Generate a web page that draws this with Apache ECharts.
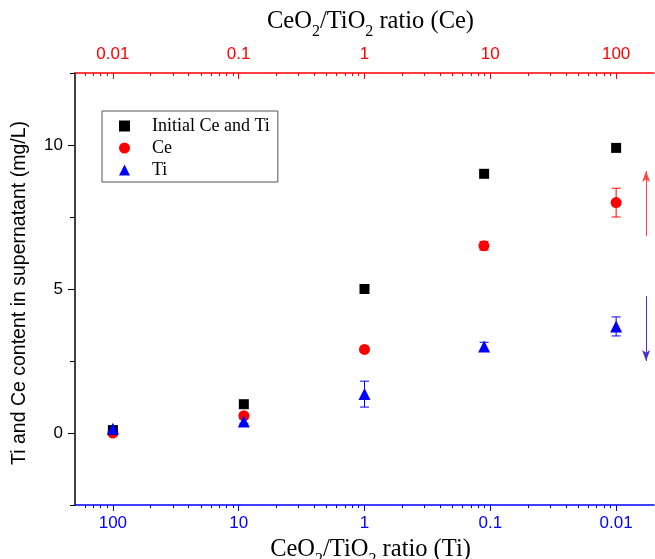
<!DOCTYPE html>
<html>
<head>
<meta charset="utf-8">
<script src="https://cdn.jsdelivr.net/npm/echarts@6/dist/echarts.min.js"></script>
<style>
  html, body { margin: 0; padding: 0; background: #fff; }
  #chart { width: 655px; height: 559px; }
</style>
</head>
<body>
<div id="chart"></div>
<script>
// x positions, read against the bottom (Ti) axis
const ratioTi = [100, 9.1, 1, 0.112, 0.01]
// same points read against the top (Ce) axis
const ratioCe = [0.01, 0.11, 1, 8.9, 100]

const initial = [0.1, 1.0, 5.0, 9.0, 9.9]
const ce = [0.0, 0.6, 2.9, 6.5, 8.0]
const ceErr = [0.05, 0.08, 0.1, 0.15, 0.5]
const ti = [0.15, 0.4, 1.35, 3.0, 3.7]
const tiErr = [0.05, 0.08, 0.45, 0.15, 0.33]

const topLabels = [0.01, 0.1, 1, 10, 100]
const bottomLabels = [100, 10, 1, 0.1, 0.01]
const minorTop = [0.006, 0.007, 0.008, 0.009,
  0.02, 0.03, 0.04, 0.05, 0.06, 0.07, 0.08, 0.09,
  0.2, 0.3, 0.4, 0.5, 0.6, 0.7, 0.8, 0.9,
  2, 3, 4, 5, 6, 7, 8, 9,
  20, 30, 40, 50, 60, 70, 80, 90]
const minorBottom = minorTop.map(v => 1 / v)
const yMajor = [0, 5, 10]
const yMinor = [-2.5, 2.5, 7.5, 12.5]

// annotation arrows (top axis units)
const arrowX = 173
const ceArrow = [6.85, 9.1]
const tiArrow = [4.75, 2.5]

const serif = "'Liberation Serif', 'Times New Roman', serif"
const sans = "'Liberation Sans', Arial, sans-serif"

const titleRich = {
  t: { fontFamily: serif, fontSize: 24.5, color: '#000', lineHeight: 27, verticalAlign: 'top' },
  s: { fontFamily: serif, fontSize: 16, color: '#000', lineHeight: 17, verticalAlign: 'top', padding: [15, 0, 0, 0] }
}
const ratioName = tag => '{t|CeO}{s|2}{t|/TiO}{s|2}{t| ratio (' + tag + ')}'

const errorSeries = (xs, ys, errs, axis, color) => ({
  type: 'custom',
  xAxisIndex: axis,
  silent: true,
  z: 1,
  data: xs.map((x, i) => [x, ys[i], errs[i]]),
  renderItem: (params, api) => {
    const x = api.value(0), y = api.value(1), e = api.value(2)
    const hi = api.coord([x, y + e])
    const lo = api.coord([x, y - e])
    const w = 4.5
    const st = { stroke: color, lineWidth: 1 }
    return {
      type: 'group',
      children: [
        { type: 'line', shape: { x1: hi[0], y1: hi[1], x2: lo[0], y2: lo[1] }, style: st },
        { type: 'line', shape: { x1: hi[0] - w, y1: hi[1], x2: hi[0] + w, y2: hi[1] }, style: st },
        { type: 'line', shape: { x1: lo[0] - w, y1: lo[1], x2: lo[0] + w, y2: lo[1] }, style: st }
      ]
    }
  }
})

const chart = echarts.init(document.getElementById('chart'))

const option = {
  animation: false,
  backgroundColor: '#fff',
  grid: { left: 75, right: 1, top: 73, bottom: 54, outerBoundsMode: 'none' },
  legend: {
    orient: 'vertical',
    left: 102,
    top: 111,
    padding: [6, 8, 3, 17],
    itemWidth: 11,
    itemHeight: 11,
    itemGap: 4,
    borderColor: '#555',
    borderWidth: 1,
    textStyle: { fontFamily: serif, fontSize: 18, color: '#000', lineHeight: 18, padding: [0, 0, 0, 17] },
    data: ['Initial Ce and Ti', 'Ce', 'Ti']
  },
  xAxis: [
    {
      type: 'log',
      position: 'bottom',
      inverse: true,
      min: 0.005,
      max: 200,
      name: ratioName('Ti'),
      nameLocation: 'middle',
      nameGap: 29,
      nameTextStyle: { rich: titleRich, padding: [0, 0, 0, 12] },
      axisLine: { onZero: false, lineStyle: { color: '#0000ff', width: 1.5 } },
      axisTick: { customValues: bottomLabels, length: 6, lineStyle: { color: '#0000ff' } },
      axisLabel: {
        customValues: bottomLabels,
        color: '#0000ff', fontFamily: sans, fontSize: 17, margin: 10,
        formatter: v => String(+v.toPrecision(3))
      },
      splitLine: { show: false }
    },
    {
      type: 'log',
      position: 'top',
      min: 0.005,
      max: 200,
      name: ratioName('Ce'),
      nameLocation: 'middle',
      nameGap: 37,
      nameTextStyle: { rich: titleRich, padding: [0, 0, 0, 12] },
      axisLine: { onZero: false, lineStyle: { color: '#ff0000', width: 1.5 } },
      axisTick: { inside: true, customValues: topLabels, length: 6, lineStyle: { color: '#ff0000' } },
      axisLabel: {
        customValues: topLabels,
        color: '#ff0000', fontFamily: sans, fontSize: 17, margin: 10,
        formatter: v => String(+v.toPrecision(3))
      },
      splitLine: { show: false }
    },
    {
      type: 'log',
      position: 'bottom',
      inverse: true,
      min: 0.005,
      max: 200,
      axisLine: { show: false, onZero: false },
      axisTick: { customValues: minorBottom, length: 3, lineStyle: { color: '#0000ff' } },
      axisLabel: { show: false },
      splitLine: { show: false }
    },
    {
      type: 'log',
      position: 'top',
      min: 0.005,
      max: 200,
      axisLine: { show: false, onZero: false },
      axisTick: { inside: true, customValues: minorTop, length: 3, lineStyle: { color: '#ff0000' } },
      axisLabel: { show: false },
      splitLine: { show: false }
    }
  ],
  yAxis: [
    {
      type: 'value',
      position: 'left',
      min: -2.5,
      max: 12.5,
      name: 'Ti and Ce content in supernatant (mg/L)',
      nameLocation: 'middle',
      nameGap: 45,
      nameTextStyle: { fontFamily: sans, fontSize: 19.5, color: '#000', padding: [0, 8, 0, 0] },
      axisLine: { show: true, onZero: false, lineStyle: { color: '#000', width: 1.5 } },
      axisTick: { customValues: yMajor, length: 7, lineStyle: { color: '#000' } },
      axisLabel: { customValues: yMajor, color: '#000', fontFamily: sans, fontSize: 17, margin: 12 },
      splitLine: { show: false }
    },
    {
      type: 'value',
      position: 'left',
      min: -2.5,
      max: 12.5,
      axisLine: { show: false, onZero: false },
      axisTick: { show: true, customValues: yMinor, length: 5, lineStyle: { color: '#000' } },
      axisLabel: { show: false },
      splitLine: { show: false }
    }
  ],
  series: [
    errorSeries(ratioCe, ce, ceErr, 1, '#ff0000'),
    errorSeries(ratioTi, ti, tiErr, 0, '#0000ff'),
    {
      name: 'Ce',
      type: 'scatter',
      xAxisIndex: 1,
      symbol: 'circle',
      symbolSize: 11,
      itemStyle: { color: '#ff0000', opacity: 1 },
      z: 2,
      data: ratioCe.map((x, i) => [x, ce[i]]),
      markLine: {
        silent: true,
        symbol: ['none', 'arrow'],
        symbolSize: [6, 11],
        label: { show: false },
        data: [
          [{ coord: [arrowX, ceArrow[0]], lineStyle: { color: '#ff4444', width: 1, type: 'solid' } }, { coord: [arrowX, ceArrow[1]] }],
          [{ coord: [arrowX, tiArrow[0]], lineStyle: { color: '#4433cc', width: 1, type: 'solid' } }, { coord: [arrowX, tiArrow[1]] }]
        ]
      }
    },
    {
      name: 'Initial Ce and Ti',
      type: 'scatter',
      xAxisIndex: 0,
      symbol: 'rect',
      symbolSize: 10,
      itemStyle: { color: '#000', opacity: 1 },
      z: 3,
      data: ratioTi.map((x, i) => [x, initial[i]])
    },
    {
      name: 'Ti',
      type: 'scatter',
      xAxisIndex: 0,
      symbol: 'triangle',
      symbolSize: 12,
      itemStyle: { color: '#0000ff', opacity: 1 },
      z: 4,
      data: ratioTi.map((x, i) => [x, ti[i]])
    }
  ]
}

chart.setOption(option)
</script>
</body>
</html>
